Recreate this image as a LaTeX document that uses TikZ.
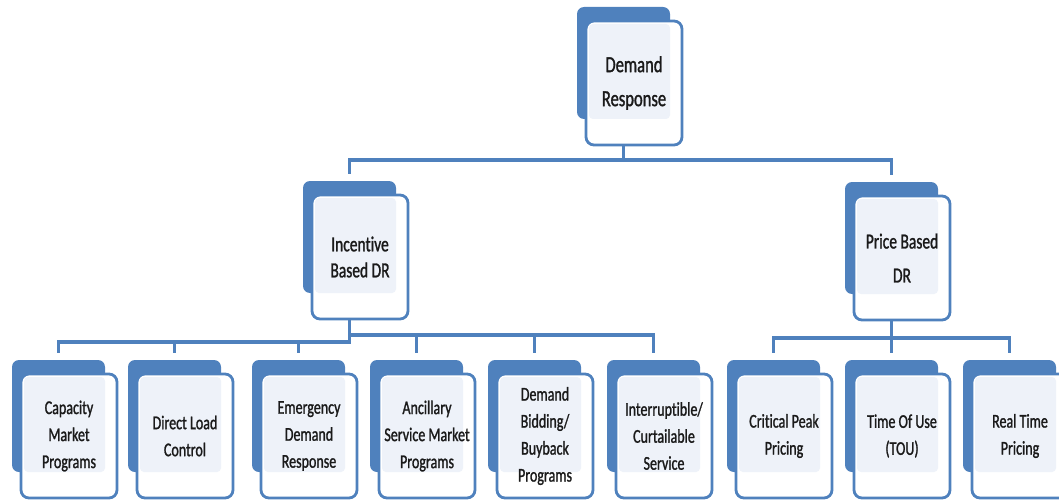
\documentclass[tikz,border=0pt]{standalone}
\usepackage{fontspec}
\newfontfamily\cardfont[FakeStretch=0.72, FakeBold=1.2, Ligatures=NoCommon]{Carlito}
\usetikzlibrary{calc}
\definecolor{drblue}{HTML}{4F81BD}
\definecolor{drlight}{HTML}{EEF2F9}
\definecolor{drtext}{HTML}{1A1A1A}

\tikzset{
  cardback/.style={fill=drblue, rounded corners=7pt, minimum width=93pt,
    minimum height=112pt, anchor=north west, inner sep=0pt, outer sep=0pt},
  cardfront/.style={draw=drblue, line width=2.8pt, fill=white, rounded corners=8pt,
    minimum width=96pt, minimum height=124pt, anchor=north west, inner sep=0pt, outer sep=0pt},
  cardtext/.style={align=center, text=drtext, inner sep=0pt},
  conn/.style={draw=drblue, line width=3.4pt, shorten >=7pt},
  big/.style={font=\cardfont\fontsize{23pt}{34pt}\selectfont},
  mid/.style={font=\cardfont\fontsize{21.5pt}{26pt}\selectfont},
  midwide/.style={font=\cardfont\fontsize{21.5pt}{34pt}\selectfont},
  small/.style={font=\cardfont\fontsize{19.5pt}{27pt}\selectfont},
}

% one card: id, x, y (top-left of the shadow block), text style, text
\newcommand{\drcard}[5]{%
  \node[cardback] (#1-b) at (#2,#3) {};
  \node[cardfront] (#1) at ($(#1-b.north west)+(9pt,-14pt)$) {};
  \fill[drlight, rounded corners=4pt] ([shift={(3pt,-3pt)}]#1.north west) rectangle (#1-b.south east);
  \node[cardtext, #4] (#1-t) at (#1.center) {#5};
}

\begin{document}
\begin{tikzpicture}[x=1pt, y=-1pt]
  \useasboundingbox (0,0) rectangle (1059,500);
  \clip (0,0) rectangle (1059,500);

  % bar heights of the connector rails
  \coordinate (lv1) at (0,160);
  \coordinate (lvL) at (0,342);
  \coordinate (lvR) at (0,335);
  \coordinate (lvP) at (0,338);

  % top level
  \drcard{dr}{577}{7}{big}{Demand\\Response}

  % second level
  \drcard{inc}{303}{181}{mid}{Incentive\\Based DR}
  \drcard{price}{845}{182}{midwide}{Price Based\\DR}

  % incentive based programmes
  \drcard{cap}{12}{360}{small}{Capacity\\Market\\Programs}
  \drcard{dlc}{128}{360}{small}{Direct Load\\Control}
  \drcard{edr}{252}{360}{small}{Emergency\\Demand\\Response}
  \drcard{anc}{370}{360}{small}{Ancillary\\Service Market\\Programs}
  \drcard{dbb}{488}{360}{small}{Demand\\Bidding/\\Buyback\\Programs}
  \drcard{ics}{607}{360}{small}{Interruptible/\\Curtailable\\Service}

  % price based programmes
  \drcard{cpp}{727}{360}{small}{Critical Peak\\Pricing}
  \drcard{tou}{845}{360}{small}{Time Of Use\\(TOU)}
  \drcard{rtp}{963}{360}{small}{Real Time\\Pricing}

  % connectors, level one
  \draw[conn] (dr-b.center |- dr.south) -- (dr-b.center |- lv1) -| (inc-b.north);
  \draw[conn] (dr-b.center |- dr.south) -- (dr-b.center |- lv1) -| (price-b.north);

  % connectors, incentive based
  \foreach \c in {cap,dlc,edr}
    \draw[conn] (inc-b.center |- inc.south) -- (inc-b.center |- lvL) -| (\c-b.north);
  \foreach \c in {anc,dbb,ics}
    \draw[conn] (inc-b.center |- inc.south) -- (inc-b.center |- lvR) -| (\c-b.north);

  % connectors, price based
  \foreach \c in {cpp,tou,rtp}
    \draw[conn] (price-b.center |- price.south) -- (price-b.center |- lvP) -| (\c-b.north);
\end{tikzpicture}
\end{document}
